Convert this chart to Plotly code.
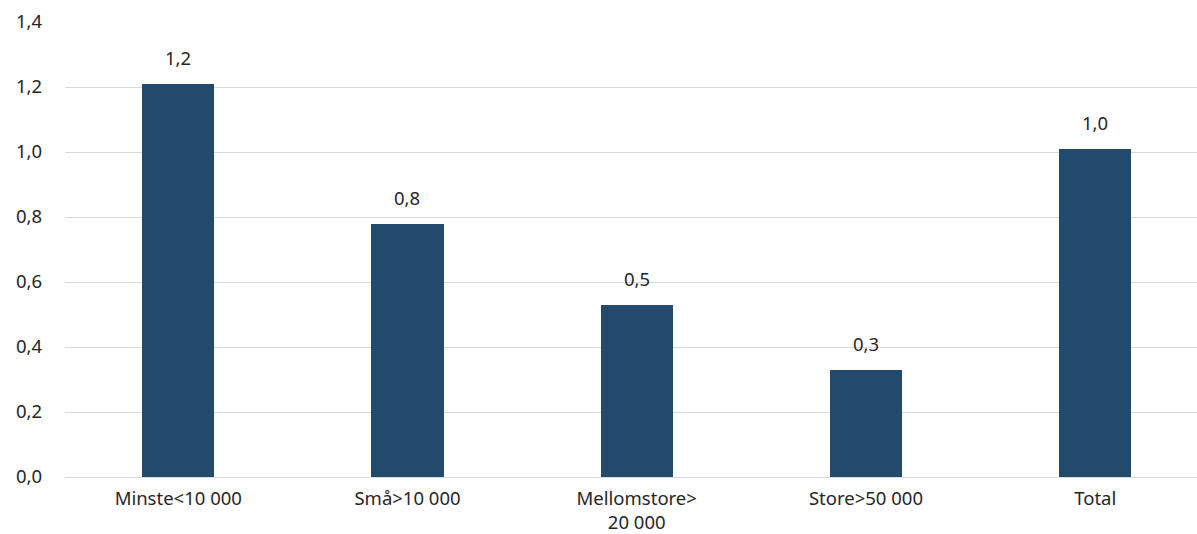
import plotly.graph_objects as go

categories = ["Minste<10 000", "Små>10 000", "Mellomstore><br>20 000", "Store>50 000", "Total"]
values = [1.21, 0.78, 0.53, 0.33, 1.01]

y_ticks = [0.0, 0.2, 0.4, 0.6, 0.8, 1.0, 1.2, 1.4]
y_tick_labels = ["0,0", "0,2", "0,4", "0,6", "0,8", "1,0", "1,2", "1,4"]

BAR_COLOR = "#224a6c"
TEXT_COLOR = "#262626"
GRID_COLOR = "#d9d9d9"
FONT = "Noto Sans"
FONT_SIZE = 18.5

fig = go.Figure()
fig.add_trace(go.Bar(
    x=categories,
    y=values,
    width=0.315,
    marker=dict(color=BAR_COLOR, line=dict(width=0)),
    hoverinfo="skip",
))

# value labels above each bar, rounded to one decimal with a comma separator
for cat, val in zip(categories, values):
    fig.add_annotation(
        x=cat, y=val,
        text=f"{val:.1f}".replace(".", ","),
        showarrow=False,
        yanchor="bottom",
        yshift=12,
        font=dict(family=FONT, size=FONT_SIZE, color=TEXT_COLOR),
    )

fig.update_layout(
    width=1197, height=534,
    margin=dict(l=65, r=0, t=22, b=55),
    paper_bgcolor="white",
    plot_bgcolor="white",
    showlegend=False,
    font=dict(family=FONT, size=FONT_SIZE, color=TEXT_COLOR),
    bargap=0.0,
)
fig.update_xaxes(
    type="category",
    range=[-0.494, 4.444],
    showgrid=False,
    showline=False,
    zeroline=False,
    ticks="",
    ticklabelstandoff=8,
    tickfont=dict(family=FONT, size=FONT_SIZE, color=TEXT_COLOR),
)
fig.update_yaxes(
    range=[0, 1.4],
    tickvals=y_ticks,
    ticktext=y_tick_labels,
    showgrid=True,
    gridcolor=GRID_COLOR,
    gridwidth=1,
    zeroline=True,
    zerolinecolor=GRID_COLOR,
    zerolinewidth=1,
    showline=False,
    ticks="",
    ticklabelstandoff=22,
    tickfont=dict(family=FONT, size=FONT_SIZE, color=TEXT_COLOR),
)

fig.write_html("out.html")
